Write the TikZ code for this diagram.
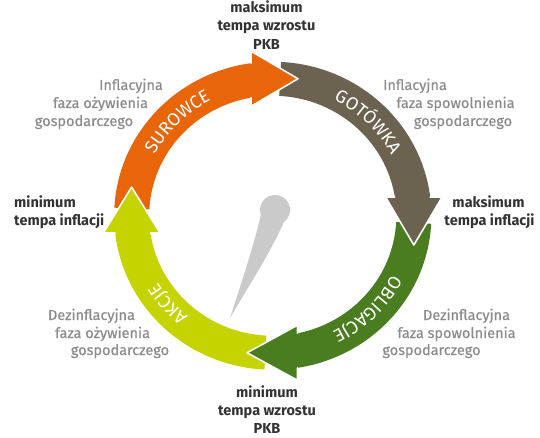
\documentclass[tikz,border=0pt]{standalone}
\usepackage{fontspec}
\setmainfont{Fira Sans}
\newfontfamily\grayfont{Fira Sans}[FakeBold=0.6]
\usetikzlibrary{decorations.text}
\definecolor{cOrange}{HTML}{E8650A}
\definecolor{cBrown}{HTML}{6B6250}
\definecolor{cGreen}{HTML}{4A7D1F}
\definecolor{cLime}{HTML}{C5D400}
\definecolor{cNeedle}{HTML}{CACACA}
\definecolor{cDark}{HTML}{333333}
\definecolor{cGray}{HTML}{8C8C8C}
\newcommand{\ringfont}{\fontsize{18}{18}\selectfont}
\newcommand{\ringarrow}[4]{%
  \pgfmathsetmacro{\ringao}{acos((#3)/154)}%
  \pgfmathsetmacro{\ringai}{acos((#3)/120)}%
  \begin{scope}[rotate=#1]
    \fill[#2] (177:120) -- (177:154) arc[start angle=177, end angle=\ringao, radius=154]
      -- (#3,164.5) -- (#4,137) -- (#3,109.5) -- (\ringai:120)
      arc[start angle=\ringai, end angle=177, radius=120] -- cycle;
    \draw[headline] (\ringao:154) -- (#3,164.5) -- (#4,137) -- (#3,109.5) -- (\ringai:120);
  \end{scope}}
\newcommand{\ringhead}[4]{%
  \pgfmathsetmacro{\ringao}{acos((#3)/154)}%
  \pgfmathsetmacro{\ringai}{acos((#3)/120)}%
  \begin{scope}[rotate=#1]
    \fill[#2] (\ringao:154) -- (#3,164.5) -- (#4,137) -- (#3,109.5) -- (\ringai:120) -- cycle;
    \draw[headline] (\ringao:154) -- (#3,164.5) -- (#4,137) -- (#3,109.5) -- (\ringai:120);
  \end{scope}}
\begin{document}
\begin{tikzpicture}[x=1pt,y=1pt,
  headline/.style={white, line width=1.6pt, line join=round, line cap=round},
  blk/.style={font=\bfseries\fontsize{14.5}{18}\selectfont, text=cDark, inner sep=0pt, anchor=base},
  gry/.style={font=\grayfont\fontsize{14.5}{18}\selectfont, text=cGray, inner sep=0pt, anchor=base}]
\useasboundingbox (0,0) rectangle (540,437);
% needle
\fill[cNeedle] (275,227) circle[radius=15];
\fill[cNeedle] (261,223) .. controls (255,195) and (240,150) .. (230,119)
  .. controls (248,150) and (268,180) .. (285,217) -- cycle;
% ring
\begin{scope}[shift={(272.75,221.25)}, xscale=1.03]
  \ringarrow{90}{cLime}{-17.25}{28.75}
  \ringarrow{180}{cGreen}{-24}{25}
  \ringarrow{-90}{cBrown}{-18.75}{29.25}
  \ringarrow{0}{cOrange}{-21}{24.5}
  \ringhead{90}{cLime}{-17.25}{28.75}
  \path[decorate, decoration={text along path, text align=center,
     text={|\color{white}\ringfont|SUROWCE}}]
     (180:130) arc[start angle=180, end angle=90, radius=130];
  \path[decorate, decoration={text along path, text align=center,
     text={|\color{white}\ringfont|GOTÓWKA}}]
     (90:130) arc[start angle=90, end angle=0, radius=130];
  \path[decorate, decoration={text along path, text align=center,
     text={|\color{white}\ringfont|OBLIGACJE}}]
     (0:130) arc[start angle=0, end angle=-90, radius=130];
  \path[decorate, decoration={text along path, text align=center,
     text={|\color{white}\ringfont|AKCJE}}]
     (261:130) arc[start angle=261, end angle=180, radius=130];
\end{scope}
% black labels
\node[blk] (t1) at (266.5,424) {maksimum};
\node[blk] (t2) at (266.5,406) {tempa wzrostu};
\node[blk] (t3) at (266.5,387) {PKB};
\node[blk] (r1) at (488.5,230) {maksimum};
\node[blk] (r2) at (489.5,212) {tempa inflacji};
\node[blk, anchor=base west] (l1) at (14,230) {minimum};
\node[blk, anchor=base west] (l2) at (14,212) {tempa inflacji};
\node[blk] (b1) at (267,40) {minimum};
\node[blk] (b2) at (267,21.5) {tempa wzrostu};
\node[blk] (b3) at (267,3.5) {PKB};
% gray labels
\node[gry] (tl1) at (131,347) {Inflacyjna};
\node[gry] (tl2) at (100.5,329) {faza ożywienia};
\node[gry] (tl3) at (84,311) {gospodarczego};
\node[gry] (tr1) at (415,347) {Inflacyjna};
\node[gry] (tr2) at (455.5,329) {faza spowolnienia};
\node[gry] (tr3) at (463,311) {gospodarczego};
\node[gry] (bl1) at (91.5,117) {Dezinflacyjna};
\node[gry] (bl2) at (102.5,99) {faza ożywienia};
\node[gry] (bl3) at (120,82) {gospodarczego};
\node[gry] (br1) at (466.5,117) {Dezinflacyjna};
\node[gry] (br2) at (456.5,99) {faza spowolnienia};
\node[gry] (br3) at (431.5,82) {gospodarczego};
\end{tikzpicture}
\end{document}
